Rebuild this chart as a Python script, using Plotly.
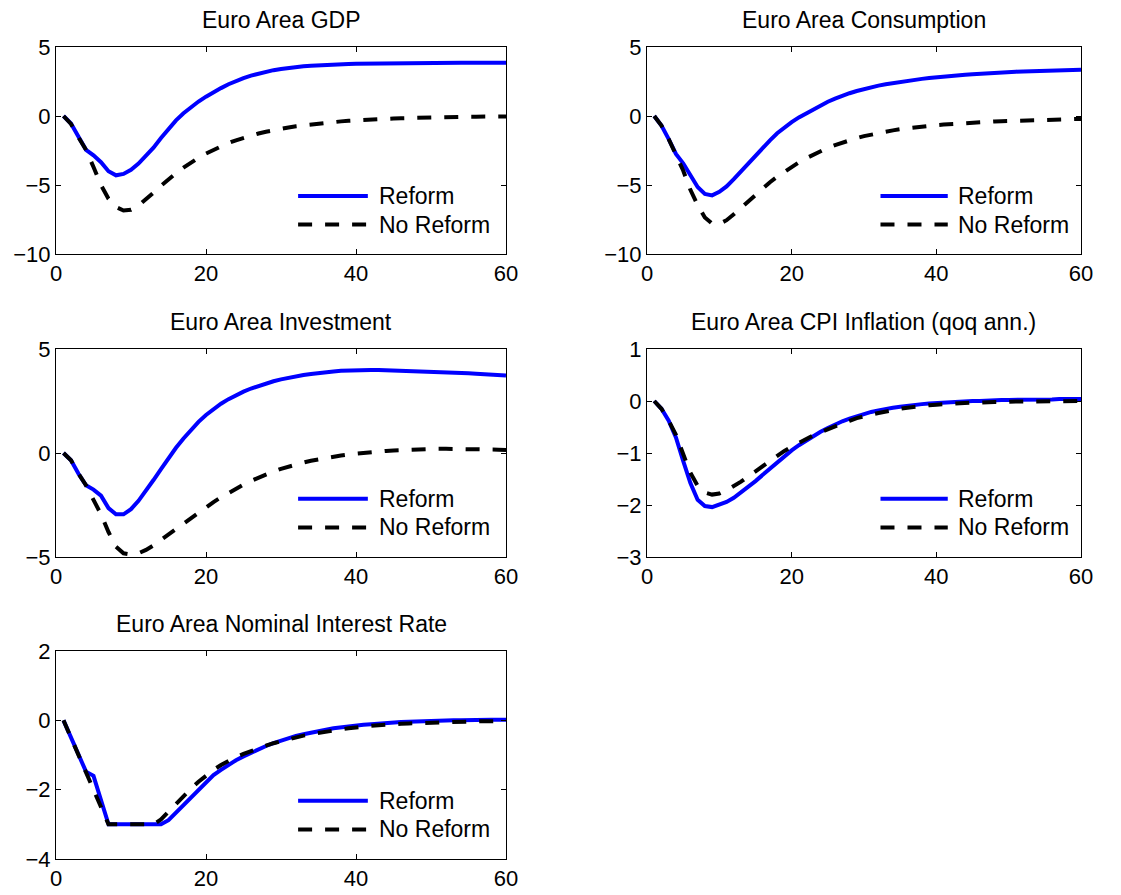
import plotly.graph_objects as go

# Quarters after the shock
quarters = list(range(1, 61))

# Euro Area GDP
gdp_reform = [0, -0.55, -1.5, -2.45, -2.85, -3.35, -4.0, -4.3, -4.2, -3.9,
              -3.45, -2.9, -2.3, -1.6, -0.93, -0.32, 0.2, 0.65, 1.05, 1.4,
              1.73, 2.02, 2.3, 2.54, 2.75, 2.93, 3.08, 3.21, 3.32, 3.41,
              3.49, 3.55, 3.6, 3.64, 3.68, 3.71, 3.73, 3.75, 3.77, 3.78,
              3.79, 3.8, 3.81, 3.81, 3.82, 3.82, 3.83, 3.83, 3.83, 3.84,
              3.84, 3.84, 3.85, 3.85, 3.85, 3.85, 3.86, 3.86, 3.86, 3.86]
gdp_noreform = [0, -0.58, -1.55, -2.45, -3.7, -5.0, -6.0, -6.6, -6.85, -6.8,
                -6.5, -6.05, -5.55, -5.05, -4.58, -4.14, -3.74, -3.37, -3.03, -2.72,
                -2.44, -2.19, -1.96, -1.76, -1.58, -1.42, -1.27, -1.14, -1.02, -0.92,
                -0.83, -0.74, -0.67, -0.6, -0.54, -0.48, -0.43, -0.39, -0.35, -0.31,
                -0.28, -0.25, -0.22, -0.2, -0.18, -0.16, -0.14, -0.13, -0.11, -0.1,
                -0.09, -0.08, -0.07, -0.06, -0.05, -0.05, -0.04, -0.04, -0.03, -0.03]

# Euro Area Consumption
cons_reform = [0, -0.7, -1.67, -2.75, -3.43, -4.3, -5.15, -5.65, -5.75, -5.5,
               -5.1, -4.58, -4.0, -3.4, -2.82, -2.27, -1.76, -1.25, -0.82, -0.45,
               -0.1, 0.2, 0.5, 0.78, 1.03, 1.26, 1.47, 1.65, 1.81, 1.96,
               2.09, 2.2, 2.3, 2.39, 2.47, 2.55, 2.62, 2.69, 2.75, 2.81,
               2.86, 2.91, 2.95, 2.99, 3.03, 3.07, 3.1, 3.13, 3.16, 3.19,
               3.21, 3.23, 3.25, 3.27, 3.29, 3.31, 3.32, 3.34, 3.35, 3.36]
cons_noreform = [0, -0.7, -1.67, -2.75, -3.95, -5.35, -6.45, -7.35, -7.8, -7.82,
                 -7.55, -7.12, -6.65, -6.16, -5.68, -5.23, -4.8, -4.4, -4.03, -3.68,
                 -3.36, -3.06, -2.79, -2.54, -2.31, -2.11, -1.92, -1.75, -1.6, -1.46,
                 -1.34, -1.23, -1.13, -1.04, -0.96, -0.89, -0.82, -0.76, -0.71, -0.66,
                 -0.62, -0.58, -0.54, -0.51, -0.48, -0.45, -0.42, -0.4, -0.38, -0.36,
                 -0.34, -0.32, -0.3, -0.29, -0.27, -0.26, -0.24, -0.23, -0.22, -0.21]

# Euro Area Investment
inv_reform = [0, -0.35, -1.0, -1.55, -1.76, -2.05, -2.65, -2.95, -2.95, -2.7,
              -2.3, -1.82, -1.3, -0.77, -0.25, 0.25, 0.7, 1.12, 1.5, 1.83,
              2.12, 2.37, 2.59, 2.78, 2.95, 3.1, 3.23, 3.35, 3.45, 3.54,
              3.62, 3.69, 3.75, 3.8, 3.85, 3.89, 3.92, 3.95, 3.97, 3.98,
              3.99, 3.99, 3.99, 3.98, 3.97, 3.96, 3.95, 3.94, 3.92, 3.91,
              3.89, 3.88, 3.86, 3.84, 3.83, 3.81, 3.79, 3.77, 3.75, 3.73]
inv_noreform = [0, -0.35, -1.0, -1.55, -2.25, -2.95, -3.8, -4.5, -4.82, -4.88,
                -4.82, -4.66, -4.44, -4.18, -3.9, -3.63, -3.36, -3.1, -2.85, -2.6,
                -2.36, -2.13, -1.91, -1.71, -1.52, -1.34, -1.18, -1.03, -0.89, -0.76,
                -0.65, -0.55, -0.46, -0.37, -0.3, -0.23, -0.17, -0.12, -0.07, -0.03,
                0.01, 0.04, 0.07, 0.1, 0.12, 0.14, 0.16, 0.17, 0.18, 0.19,
                0.2, 0.2, 0.2, 0.2, 0.19, 0.19, 0.18, 0.17, 0.16, 0.15]

# Euro Area CPI Inflation (qoq annualised)
cpi_reform = [0, -0.15, -0.38, -0.7, -1.15, -1.58, -1.9, -2.02, -2.04, -2.0,
              -1.94, -1.86, -1.76, -1.65, -1.54, -1.42, -1.3, -1.18, -1.06, -0.95,
              -0.85, -0.76, -0.67, -0.59, -0.52, -0.45, -0.39, -0.34, -0.29, -0.25,
              -0.21, -0.18, -0.15, -0.13, -0.11, -0.09, -0.07, -0.06, -0.05, -0.04,
              -0.03, -0.02, -0.01, -0.01, 0.0, 0.0, 0.01, 0.01, 0.02, 0.02,
              0.02, 0.03, 0.03, 0.03, 0.03, 0.03, 0.04, 0.04, 0.04, 0.04]
cpi_noreform = [0, -0.15, -0.38, -0.65, -1.02, -1.38, -1.63, -1.76, -1.8, -1.78,
                -1.72, -1.64, -1.55, -1.45, -1.35, -1.25, -1.15, -1.05, -0.96, -0.88,
                -0.8, -0.73, -0.66, -0.6, -0.54, -0.48, -0.43, -0.38, -0.33, -0.29,
                -0.26, -0.23, -0.2, -0.17, -0.15, -0.13, -0.11, -0.1, -0.08, -0.07,
                -0.06, -0.05, -0.05, -0.04, -0.03, -0.03, -0.02, -0.02, -0.02, -0.01,
                -0.01, -0.01, -0.01, -0.01, 0.0, 0.0, 0.0, 0.0, 0.0, 0.0]

# Euro Area Nominal Interest Rate
rate_reform = [0, -0.5, -1.0, -1.48, -1.6, -2.3, -3.0, -3.0, -3.0, -3.0,
               -3.0, -3.0, -3.0, -3.0, -2.88, -2.66, -2.43, -2.2, -1.98, -1.77,
               -1.58, -1.43, -1.28, -1.15, -1.04, -0.93, -0.83, -0.74, -0.66, -0.58,
               -0.51, -0.45, -0.4, -0.35, -0.31, -0.27, -0.23, -0.2, -0.17, -0.15,
               -0.13, -0.11, -0.09, -0.08, -0.07, -0.05, -0.04, -0.03, -0.03, -0.02,
               -0.01, -0.01, 0.0, 0.0, 0.01, 0.01, 0.01, 0.02, 0.02, 0.02]
rate_noreform = [0, -0.5, -1.0, -1.5, -2.02, -2.55, -3.0, -3.0, -3.0, -3.0,
                 -3.0, -3.0, -3.0, -2.86, -2.63, -2.4, -2.18, -1.97, -1.77, -1.59,
                 -1.43, -1.29, -1.17, -1.06, -0.97, -0.88, -0.8, -0.73, -0.66, -0.6,
                 -0.54, -0.49, -0.44, -0.4, -0.36, -0.32, -0.29, -0.26, -0.23, -0.2,
                 -0.18, -0.16, -0.14, -0.12, -0.11, -0.1, -0.09, -0.08, -0.07, -0.06,
                 -0.05, -0.05, -0.04, -0.04, -0.03, -0.03, -0.03, -0.02, -0.02, -0.02]

titles = ["Euro Area GDP", "Euro Area Consumption", "Euro Area Investment",
          "Euro Area CPI Inflation (qoq ann.)", "Euro Area Nominal Interest Rate"]
series = [(gdp_reform, gdp_noreform), (cons_reform, cons_noreform),
          (inv_reform, inv_noreform), (cpi_reform, cpi_noreform),
          (rate_reform, rate_noreform)]
y_ranges = [[-10, 5], [-10, 5], [-5, 5], [-3, 1], [-4, 2]]
y_ticks = [[-10, -5, 0, 5], [-10, -5, 0, 5], [-5, 0, 5], [-3, -2, -1, 0, 1], [-4, -2, 0, 2]]
x_ticks = [0, 20, 40, 60]
legend_names = ["Reform", "No Reform"]

W, H = 1121, 895
FONT = "Liberation Sans, Arial, Helvetica, sans-serif"
TICK_FS = 22
TEXT_FS = 23
DASH = "14px,13px"

# Panel boxes in pixels: (left, right, top, bottom)
col_px = [(56, 506), (647, 1081)]
row_px = [(47, 254), (349, 557), (651, 859)]

fig = go.Figure()
layout = dict(
    template="none",
    width=W, height=H, autosize=False,
    margin=dict(l=0, r=0, t=0, b=0, pad=0, autoexpand=False),
    paper_bgcolor="white", plot_bgcolor="white",
    showlegend=False,
    font=dict(family=FONT, size=TICK_FS, color="black"),
)
annotations = []
shapes = []

for i, title in enumerate(titles):
    r, c = divmod(i, 2)
    left, right = col_px[c]
    top, bottom = row_px[r]
    n = "" if i == 0 else str(i + 1)
    xa, ya = "x" + n, "y" + n
    layout["xaxis" + n] = dict(
        domain=[left / W, right / W], anchor=ya, range=[0, 60], automargin=False,
        tickvals=x_ticks, ticks="inside", ticklen=5, tickcolor="black",
        showline=True, linecolor="black", linewidth=1, mirror="ticks",
        showgrid=False, zeroline=False, tickfont=dict(size=TICK_FS),
    )
    layout["yaxis" + n] = dict(
        domain=[1 - bottom / H, 1 - top / H], anchor=xa, range=y_ranges[i], automargin=False,
        tickvals=y_ticks[i], ticks="inside", ticklen=5, tickcolor="black",
        showline=True, linecolor="black", linewidth=1, mirror="ticks",
        showgrid=False, zeroline=False, tickfont=dict(size=TICK_FS),
    )
    reform, noreform = series[i]
    fig.add_trace(go.Scatter(x=quarters, y=reform, mode="lines", name=legend_names[0],
                             line=dict(color="#0000ff", width=4),
                             xaxis=xa, yaxis=ya))
    fig.add_trace(go.Scatter(x=quarters, y=noreform, mode="lines", name=legend_names[1],
                             line=dict(color="black", width=4, dash=DASH),
                             xaxis=xa, yaxis=ya))
    # Panel title
    annotations.append(dict(text=title, xref=xa + " domain", yref=ya + " domain",
                            x=0.5, y=1.0, yshift=27, showarrow=False,
                            xanchor="center", yanchor="middle",
                            font=dict(size=TEXT_FS, family=FONT)))
    # In-panel legend keys
    for k, (ky, lname) in enumerate(zip([0.28, 0.142], legend_names)):
        shapes.append(dict(type="line", xref=xa + " domain", yref=ya + " domain",
                           x0=0.538, x1=0.693, y0=ky, y1=ky,
                           line=dict(color="#0000ff" if k == 0 else "black", width=4,
                                     dash="solid" if k == 0 else DASH)))
        annotations.append(dict(text=lname, xref=xa + " domain", yref=ya + " domain",
                                x=0.713, y=ky, showarrow=False,
                                xanchor="left", yanchor="middle",
                                font=dict(size=TEXT_FS, family=FONT)))

layout["annotations"] = annotations
layout["shapes"] = shapes
fig.update_layout(**layout)
fig.write_html("out.html",
               post_script="document.body.style.margin='0';document.body.style.overflow='hidden';")
